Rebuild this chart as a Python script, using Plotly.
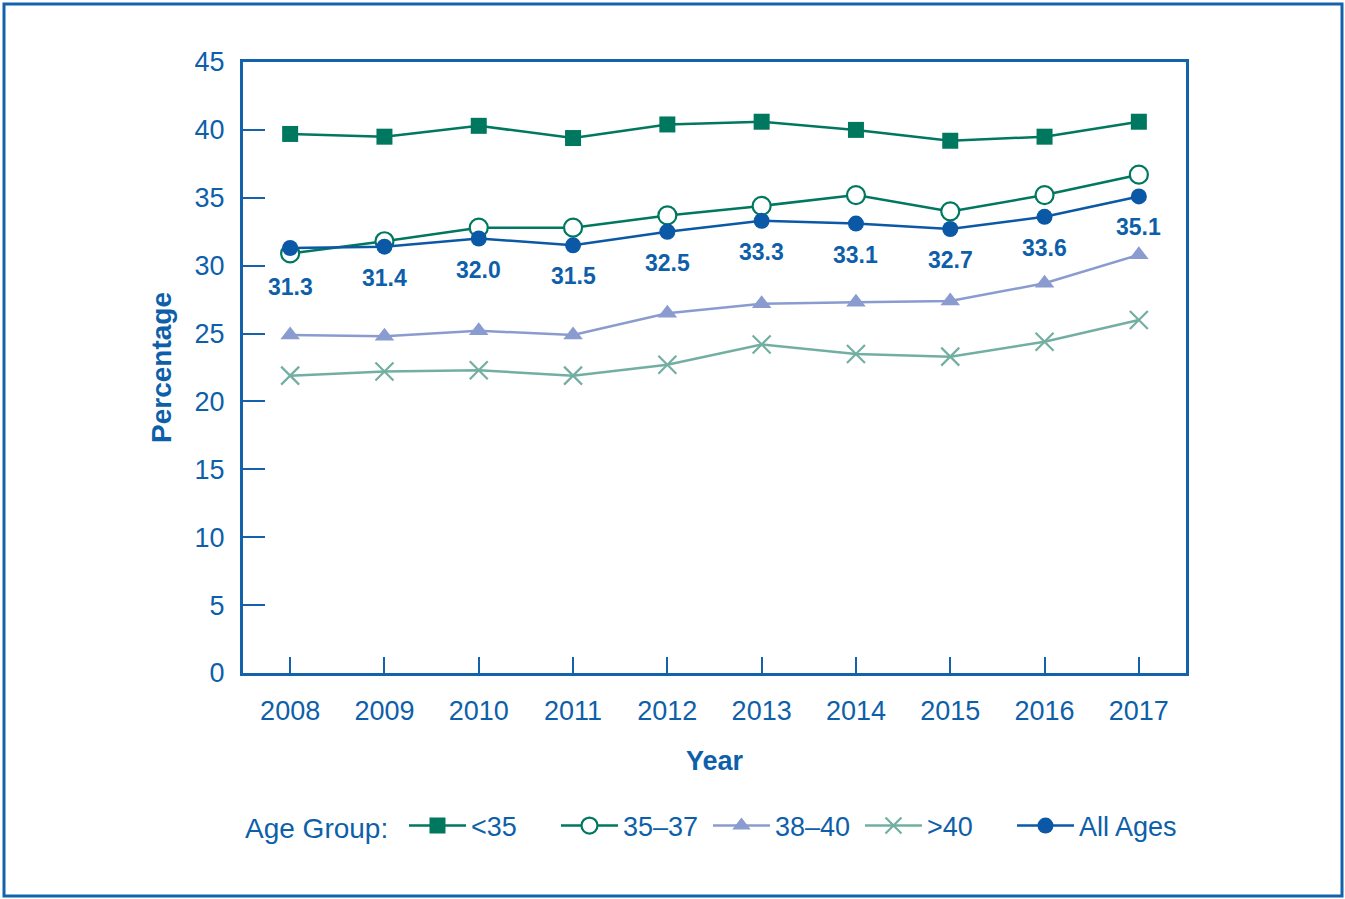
import plotly.graph_objects as go

years = [2008, 2009, 2010, 2011, 2012, 2013, 2014, 2015, 2016, 2017]
lt35 = [39.7, 39.5, 40.3, 39.4, 40.4, 40.6, 40.0, 39.2, 39.5, 40.6]
a35_37 = [30.9, 31.8, 32.8, 32.8, 33.7, 34.4, 35.2, 34.0, 35.2, 36.7]
a38_40 = [24.9, 24.8, 25.2, 24.9, 26.5, 27.2, 27.3, 27.4, 28.7, 30.8]
gt40 = [21.9, 22.2, 22.3, 21.9, 22.7, 24.2, 23.5, 23.3, 24.4, 26.0]
all_ages = [31.3, 31.4, 32.0, 31.5, 32.5, 33.3, 33.1, 32.7, 33.6, 35.1]
y_ticks = [0, 5, 10, 15, 20, 25, 30, 35, 40, 45]

TEAL = "#00775F"
BLUE = "#0A58A6"
LILAC = "#8A9BD0"
LTEAL = "#72AFA2"
TXT = "#0E5FAA"
FONT = "Liberation Sans"

W, H = 1345, 899
L, R, T, B = 243, 1186, 62, 673

fig = go.Figure()
fig.add_trace(go.Scatter(x=years, y=lt35, name="<35", mode="lines+markers",
                         line=dict(color=TEAL, width=2.5),
                         marker=dict(symbol="square", size=16, color=TEAL)))
fig.add_trace(go.Scatter(x=years, y=a35_37, name="35–37", mode="lines+markers",
                         line=dict(color=TEAL, width=2.5),
                         marker=dict(symbol="circle", size=18, color="white",
                                     line=dict(color=TEAL, width=2.2))))
fig.add_trace(go.Scatter(x=years, y=a38_40, name="38–40", mode="lines+markers",
                         line=dict(color=LILAC, width=2.5),
                         marker=dict(symbol="triangle-up", size=17, color=LILAC)))
fig.add_trace(go.Scatter(x=years, y=gt40, name=">40", mode="lines+markers",
                         line=dict(color=LTEAL, width=2.5),
                         marker=dict(symbol="x-thin-open", size=18,
                                     line=dict(color=LTEAL, width=2.2))))
fig.add_trace(go.Scatter(x=years, y=all_ages, name="All Ages", mode="lines+markers",
                         line=dict(color=BLUE, width=2.5),
                         marker=dict(symbol="circle", size=16, color=BLUE)))
# invisible spacer entry so the last legend label is not clipped
fig.add_trace(go.Scatter(x=[None], y=[None], name=" ", mode="lines",
                         line=dict(width=0, color="rgba(0,0,0,0)"), hoverinfo="skip"))

for i, (yr, v) in enumerate(zip(years, all_ages)):
    fig.add_annotation(x=yr, y=v, text=f"{v:.1f}", showarrow=False,
                       yshift=-39 if i == 0 else -31,
                       font=dict(family=FONT, size=23, color=TXT, weight="bold"))

axis_common = dict(showline=True, linecolor="#1462AC", linewidth=3, mirror=True,
                   ticks="inside", tickcolor="#1462AC", tickwidth=1.5,
                   showgrid=False, zeroline=False,
                   tickfont=dict(family=FONT, size=27, color=TXT))

fig.update_xaxes(range=[2007.5, 2017.5], tickvals=years, ticklen=16,
                 ticklabelstandoff=12,
                 title=dict(text="Year", standoff=26,
                            font=dict(family=FONT, size=27, color=TXT, weight="bold")),
                 **axis_common)
fig.update_yaxes(range=[0, 45], tickvals=y_ticks, ticklen=22,
                 ticklabelstandoff=10,
                 title=dict(text="Percentage", standoff=15,
                            font=dict(family=FONT, size=28, color=TXT, weight="bold")),
                 **axis_common)

pw, ph = R - L, B - T
fig.add_shape(type="rect", xref="paper", yref="paper",
              x0=(4 - L) / pw, x1=(1342 - L) / pw,
              y0=(B - 896) / ph, y1=(B - 4) / ph,
              line=dict(color="#1462AC", width=3), layer="below")

fig.update_layout(
    width=W, height=H,
    margin=dict(l=L, r=W - R, t=T, b=H - B),
    paper_bgcolor="white", plot_bgcolor="white",
    showlegend=True,
    legend=dict(orientation="h", x=0.0, xanchor="left", y=(B - 826) / ph, yanchor="middle",
                title=dict(text="Age Group: ", side="left",
                           font=dict(family=FONT, size=28, color=TXT)),
                font=dict(family=FONT, size=27, color=TXT),
                itemwidth=57, entrywidth=80, tracegroupgap=0),
)

fig.write_html("out.html", config={"displayModeBar": False},
               post_script="document.body.style.margin='0';document.body.style.overflow='hidden';")
